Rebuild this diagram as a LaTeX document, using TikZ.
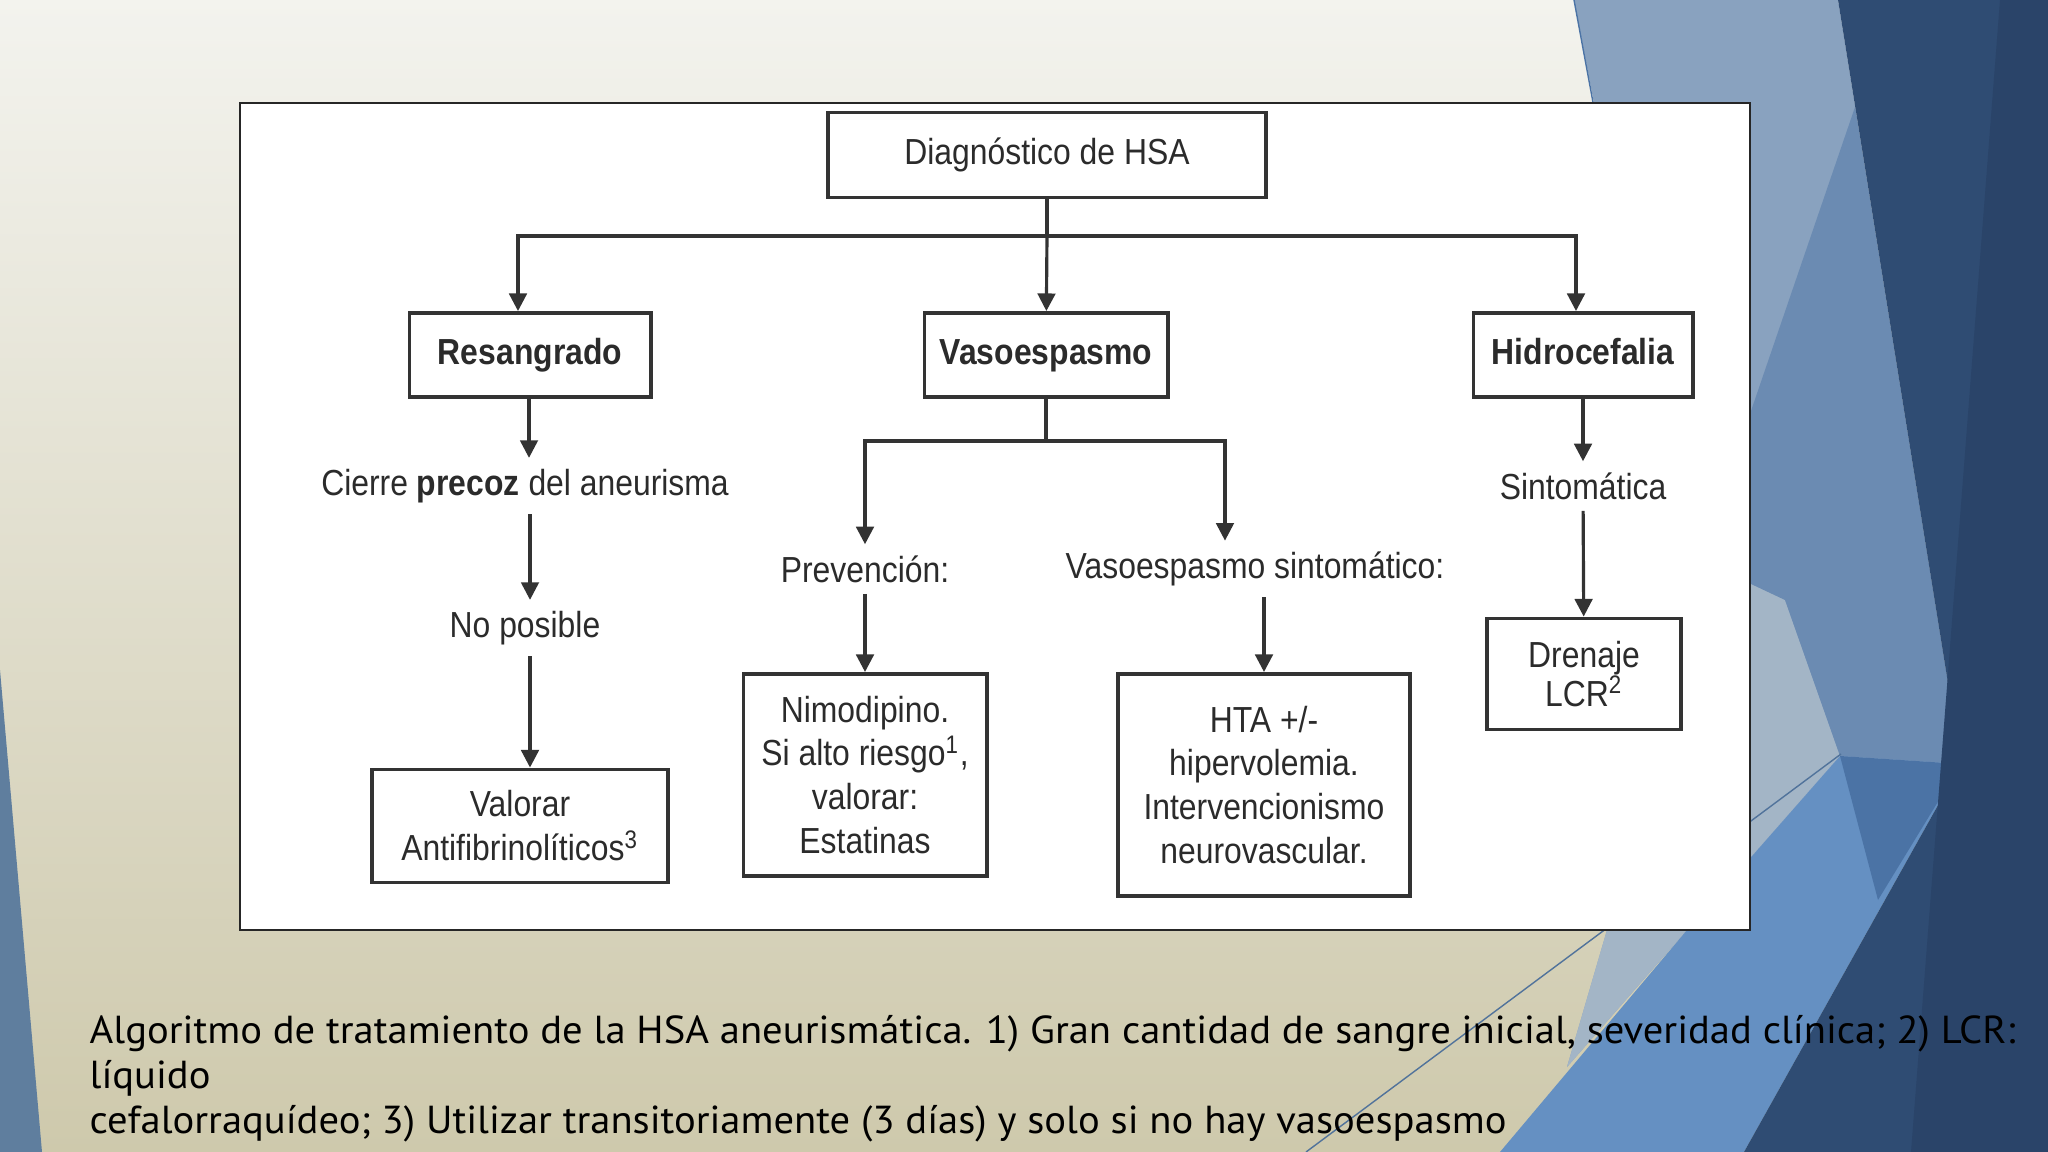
\documentclass[tikz,border=0pt]{standalone}
\usepackage{fontspec}
\usetikzlibrary{arrows.meta}
\usetikzlibrary{positioning}
\newfontfamily\diagfont[FakeStretch=0.88]{Liberation Sans}
\newfontfamily\capfont[FakeStretch=1.04]{PT Sans}
\definecolor{beigetop}{HTML}{F3F3EE}
\definecolor{beigemid}{HTML}{EBE6DC}
\definecolor{beigebot}{HTML}{CEC9AC}
\definecolor{sideblue}{HTML}{5F7E9E}
\definecolor{steel}{HTML}{89A2BF}
\definecolor{palesteel}{HTML}{A3B5C6}
\definecolor{midsteel}{HTML}{6B8BB2}
\definecolor{brightblue}{HTML}{6590C2}
\definecolor{deepblue}{HTML}{4B73A5}
\definecolor{navy}{HTML}{2F4C73}
\definecolor{darknavy}{HTML}{2A4469}
\definecolor{boxline}{HTML}{333333}
\definecolor{txtgray}{HTML}{2B2B2B}
\tikzstyle{box}=[draw=boxline,line width=1.1pt,fill=white,align=center,inner sep=0pt,text=txtgray,font=\diagfont\fontsize{10.3}{12.5}\selectfont]
\tikzstyle{headbox}=[box,minimum height=0.84cm,text height=2.6mm,text depth=0.8mm]
\tikzstyle{flowtext}=[align=center,inner xsep=2pt,inner ysep=3pt,text=txtgray,font=\diagfont\fontsize{10.3}{12.5}\selectfont]

\begin{document}
\begin{tikzpicture}[
  x=0.01cm, y=-0.01cm,
  arr/.style={draw=boxline,line width=0.9pt,-{Triangle[length=5pt,width=5pt]}},
  link/.style={draw=boxline,line width=0.9pt},
  captext/.style={anchor=base west,inner sep=0pt,text=black,font=\capfont\fontsize{11.1}{13}\selectfont},
]
\useasboundingbox (0,0) rectangle (2048,1152);
% slide background
\shade[top color=beigetop,middle color=beigemid,bottom color=beigebot] (0,0) rectangle (2048,1152);
\fill[sideblue] (0,670) -- (42,1152) -- (0,1152) -- cycle;
\fill[steel] (1574,0) -- (1838,0) -- (1961,764) -- (1840,756) -- (1687,930) -- (1567,1067) -- (1607,930) -- (1594,103) -- cycle;
\fill[palesteel] (1700,480) -- (1785,600) -- (1840,756) -- (1687,930) -- (1567,1067) -- (1607,930) -- cycle;
\fill[midsteel] (1855,107) -- (1700,560) -- (1785,600) -- (1840,756) -- (1961,764) -- cycle;
\fill[brightblue] (1840,756) -- (1961,764) -- (1744,1152) -- (1500,1152) -- (1687,930) -- cycle;
\fill[deepblue] (1840,756) -- (1961,764) -- (1878,900) -- cycle;
\fill[navy] (1838,0) -- (2048,0) -- (2048,1152) -- (1744,1152) -- (1961,764) -- cycle;
\fill[darknavy] (2000,0) -- (2048,0) -- (2048,1152) -- (1911,1152) -- cycle;
\draw[brightblue!80!black,line width=0.4pt] (1306,1152) -- (1841,754);
\draw[deepblue,line width=0.4pt] (1574,0) -- (1600,140);

% white panel
\draw[fill=white,draw=black!85,line width=0.6pt] (240,103) rectangle (1750,930);

% boxes
\node[box,minimum width=4.38cm,minimum height=0.85cm] (diag) at (1047,155) {Diagnóstico de HSA};
\node[headbox,minimum width=2.41cm] (res) at (530,355) {\bfseries Resangrado};
\node[headbox,minimum width=2.43cm] (vaso) at (1046,355) {\bfseries Vasoespasmo};
\node[headbox,minimum width=2.19cm] (hidro) at (1583,355) {\bfseries Hidrocefalia};

\node[flowtext] (cierre) at (525,486) {Cierre \textbf{precoz} del aneurisma};
\node[flowtext] (noposible) at (525,628) {No posible};
\node[box,minimum width=2.95cm,minimum height=1.13cm] (valorar) at (520,826) {Valorar\\Antifibrinolíticos\textsuperscript{3}};

\node[flowtext] (prev) at (865,569) {Prevención:};
\node[flowtext] (sint) at (1255,569) {Vasoespasmo sintomático:};
\node[box,minimum width=2.43cm,minimum height=2.02cm] (nimo) at (865,775) {Nimodipino.\\Si alto riesgo\textsuperscript{1},\\valorar:\\Estatinas};
\node[box,minimum width=2.91cm,minimum height=2.22cm] (hta) at (1264,785) {HTA +/-\\hipervolemia.\\Intervencionismo\\neurovascular.};

\node[flowtext] (sintom) at (1583,486) {Sintomática};
\node[box,minimum width=1.94cm,minimum height=1.11cm,font=\diagfont\fontsize{10.3}{11}\selectfont] (dren) at (1584,674) {Drenaje\\LCR\textsuperscript{2}};

% connectors
\coordinate (split) at (1047,236);
\draw[link] (diag) -- (split);
\draw[arr] (split) -| ([xshift=-0.12cm]res.north);
\draw[arr] (split) -- (vaso);
\draw[arr] (split) -| ([xshift=-0.07cm]hidro.north);

\draw[arr] ([xshift=-0.01cm]res.south) -- ([xshift=-0.01cm]res.south |- cierre.north);
\draw[arr] (res.south |- cierre.south) -- (res.south |- noposible.north);
\draw[arr] (res.south |- noposible.south) -- (res.south |- valorar.north);

\coordinate (vsplit) at (1046,441);
\draw[link] (vaso) -- (vsplit);
\draw[arr] (vsplit) -| (prev.north);
\draw[arr] (vsplit) -| ([xshift=-0.3cm]sint.north);
\draw[arr] (prev) -- (nimo);
\draw[arr] (hta.north |- sint.south) -- (hta.north);

\draw[arr] (hidro) -- (sintom);
\draw[arr] (sintom) -- (dren);

% caption
\node[captext] (cap1) at (89,1043) {Algoritmo de tratamiento de la HSA aneurismática. 1) Gran cantidad de sangre inicial, severidad clínica; 2) LCR:};
\node[captext] (cap2) at (89,1088) {líquido};
\node[captext] (cap3) at (89,1133) {cefalorraquídeo; 3) Utilizar transitoriamente (3 días) y solo si no hay vasoespasmo};
\end{tikzpicture}
\end{document}
